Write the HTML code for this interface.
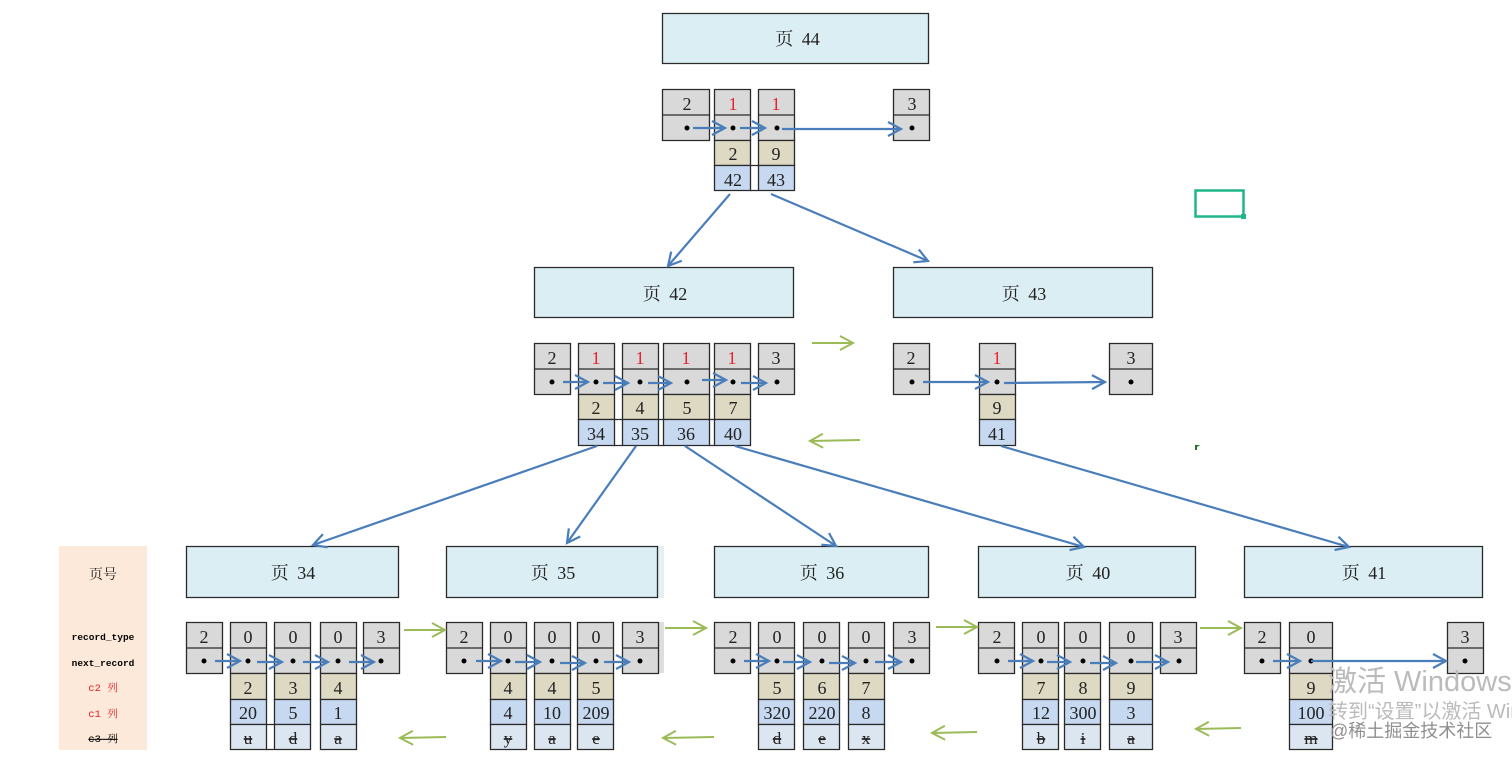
<!DOCTYPE html>
<html lang="zh">
<head>
<meta charset="utf-8">
<title>B+ tree pages</title>
<style>
html,body{margin:0;padding:0;background:#fff;width:1512px;height:762px;overflow:hidden}
svg{display:block}
text{font-family:"Liberation Serif","Noto Serif CJK SC",serif;font-size:18px;fill:#222;text-anchor:middle}
.r{fill:#e8202a}
.p{font-size:18px;word-spacing:4px}
.s{text-decoration:line-through;font-size:17px}
.l{font-family:"Liberation Mono","Noto Serif CJK SC",monospace;font-size:9.5px;fill:#000;font-weight:bold}
.c{stroke:#2a2a2a;stroke-width:1.3}
.b{fill:none;stroke:#4a7ebb;stroke-width:2.200}
.g{fill:none;stroke:#9bbb59;stroke-width:2}
.w{font-family:"Liberation Sans","Noto Sans CJK SC",sans-serif;fill:#9a9a9a;text-anchor:start}
</style>
</head>
<body>
<svg width="1512" height="762" viewBox="0 0 1512 762" xmlns="http://www.w3.org/2000/svg">
<defs>
<marker id="mb" markerUnits="userSpaceOnUse" markerWidth="20" markerHeight="20" refX="14" refY="10" orient="auto"><path d="M1 3L14 10L1 17" fill="none" stroke="#4a7ebb" stroke-width="2.200"/></marker>
<marker id="mg" markerUnits="userSpaceOnUse" markerWidth="20" markerHeight="20" refX="14" refY="10" orient="auto"><path d="M1 3L14 10L1 17" fill="none" stroke="#9bbb59" stroke-width="2"/></marker>
</defs>

<!-- legend -->
<rect x="59" y="546" width="88" height="204" fill="#fde9d9"/>
<text x="103" y="579" style="font-size:14px">页号</text>
<text x="103" y="640" class="l">record_type</text>
<text x="103" y="666" class="l">next_record</text>
<text x="103" y="691" class="l" style="fill:#e8202a;font-size:10.5px;font-weight:normal">c2 列</text>
<text x="103" y="717" class="l" style="fill:#e8202a;font-size:10.5px;font-weight:normal">c1 列</text>
<text x="103" y="742" class="l" style="text-decoration:line-through;font-size:10.5px;font-weight:normal">c3 列</text>

<!-- shadows -->
<rect x="658" y="546" width="6" height="52" fill="#e3f0f4"/>
<rect x="658" y="622" width="6" height="51" fill="#dedede"/>

<!-- page headers -->
<path class="c" fill="#daeef3" d="M662.500 13.500h266v50h-266zM534.500 267.500h259v50h-259zM893.500 267.500h259v50h-259zM186.500 546.500h212v51h-212zM446.500 546.500h211v51h-211zM714.500 546.500h214v51h-214zM978.500 546.500h217v51h-217zM1244.500 546.500h238v51h-238z"/>
<text x="797.500" y="45" class="p">页 44</text>
<text x="665" y="300" class="p">页 42</text>
<text x="1024" y="300" class="p">页 43</text>
<text x="293" y="579" class="p">页 34</text>
<text x="553" y="579" class="p">页 35</text>
<text x="822" y="579" class="p">页 36</text>
<text x="1088" y="579" class="p">页 40</text>
<text x="1364" y="579" class="p">页 41</text>

<!-- gray cells -->
<path class="c" fill="#d9d9d9" d="M662.500 89.500h47v51h-47zM662.500 115h47M714.500 89.500h36v51h-36zM714.500 115h36M758.500 89.500h36v51h-36zM758.500 115h36M893.500 89.500h36v51h-36zM893.500 115h36
M534.500 343.500h36v51h-36zM534.500 369h36M578.500 343.500h36v51h-36zM578.500 369h36M622.500 343.500h36v51h-36zM622.500 369h36M663.500 343.500h46v51h-46zM663.500 369h46M714.500 343.500h36v51h-36zM714.500 369h36M758.500 343.500h36v51h-36zM758.500 369h36
M893.500 343.500h36v51h-36zM893.500 369h36M979.500 343.500h36v51h-36zM979.500 369h36M1109.500 343.500h43v51h-43zM1109.500 369h43
M186.500 622.500h36v51h-36zM186.500 648h36M230.500 622.500h36v51h-36zM230.500 648h36M274.500 622.500h36v51h-36zM274.500 648h36M320.500 622.500h36v51h-36zM320.500 648h36M363.500 622.500h36v51h-36zM363.500 648h36
M446.500 622.500h36v51h-36zM446.500 648h36M490.500 622.500h36v51h-36zM490.500 648h36M534.500 622.500h36v51h-36zM534.500 648h36M577.500 622.500h36v51h-36zM577.500 648h36M622.500 622.500h36v51h-36zM622.500 648h36
M714.500 622.500h36v51h-36zM714.500 648h36M758.500 622.500h36v51h-36zM758.500 648h36M803.500 622.500h36v51h-36zM803.500 648h36M848.500 622.500h36v51h-36zM848.500 648h36M893.500 622.500h36v51h-36zM893.500 648h36
M978.500 622.500h36v51h-36zM978.500 648h36M1022.500 622.500h36v51h-36zM1022.500 648h36M1064.500 622.500h36v51h-36zM1064.500 648h36M1109.500 622.500h43v51h-43zM1109.500 648h43M1160.500 622.500h36v51h-36zM1160.500 648h36
M1244.500 622.500h36v51h-36zM1244.500 648h36M1289.500 622.500h43v51h-43zM1289.500 648h43M1447.500 622.500h36v51h-36zM1447.500 648h36"/>

<!-- tan cells -->
<path class="c" fill="#ddd9c3" d="M714.500 140.500h36v25h-36zM758.500 140.500h36v25h-36zM578.500 394.500h36v25h-36zM622.500 394.500h36v25h-36zM663.500 394.500h46v25h-46zM714.500 394.500h36v25h-36zM979.500 394.500h36v25h-36zM230.500 673.500h36v26h-36zM274.500 673.500h36v26h-36zM320.500 673.500h36v26h-36zM490.500 673.500h36v26h-36zM534.500 673.500h36v26h-36zM577.500 673.500h36v26h-36zM758.500 673.500h36v26h-36zM803.500 673.500h36v26h-36zM848.500 673.500h36v26h-36zM1022.500 673.500h36v26h-36zM1064.500 673.500h36v26h-36zM1109.500 673.500h43v26h-43zM1289.500 673.500h43v26h-43z"/>

<!-- blue cells -->
<path class="c" fill="#c6d9f1" d="M714.500 165.500h36v25h-36zM758.500 165.500h36v25h-36zM578.500 419.500h36v26h-36zM622.500 419.500h36v26h-36zM663.500 419.500h46v26h-46zM714.500 419.500h36v26h-36zM979.500 419.500h36v26h-36zM230.500 699.500h36v25h-36zM274.500 699.500h36v25h-36zM320.500 699.500h36v25h-36zM490.500 699.500h36v25h-36zM534.500 699.500h36v25h-36zM577.500 699.500h36v25h-36zM758.500 699.500h36v25h-36zM803.500 699.500h36v25h-36zM848.500 699.500h36v25h-36zM1022.500 699.500h36v25h-36zM1064.500 699.500h36v25h-36zM1109.500 699.500h43v25h-43zM1289.500 699.500h43v25h-43z"/>

<!-- light cells -->
<path class="c" fill="#dce6f1" d="M230.500 724.500h36v25h-36zM274.500 724.500h36v25h-36zM320.500 724.500h36v25h-36zM490.500 724.500h36v25h-36zM534.500 724.500h36v25h-36zM577.500 724.500h36v25h-36zM758.500 724.500h36v25h-36zM803.500 724.500h36v25h-36zM848.500 724.500h36v25h-36zM1022.500 724.500h36v25h-36zM1064.500 724.500h36v25h-36zM1109.500 724.500h43v25h-43zM1289.500 724.500h43v25h-43z"/>

<!-- joining lines -->
<path class="c" fill="none" d="M750 165.500h8M750 190.500h8M614 419.500h8M614 445.500h8M658 419.500h5M658 445.500h5M709 419.500h5M709 445.500h5M266 724.500h8M266 749.500h8"/>

<!-- dots -->
<path fill="none" stroke="#000" stroke-width="5" stroke-linecap="round" d="M687 128h0M733 128h0M777 128h0M912 128h0
M552 382h0M596 382h0M640 382h0M687 382h0M733 382h0M777 382h0M912 382h0M997 382h0M1131 382h0
M204 661h0M248 661h0M293 661h0M338 661h0M381 661h0
M464 661h0M508 661h0M552 661h0M596 661h0M640 661h0
M733 661h0M777 661h0M822 661h0M866 661h0M912 661h0
M997 661h0M1041 661h0M1083 661h0M1131 661h0M1179 661h0
M1262 661h0M1311 661h0M1465 661h0"/>

<!-- group 1 text -->
<text x="687" y="110">2</text><text x="733" y="110" class="r">1</text><text x="776" y="110" class="r">1</text><text x="912" y="110">3</text>
<text x="733" y="160">2</text><text x="776" y="160">9</text><text x="733" y="186">42</text><text x="776" y="186">43</text>

<!-- group 2 text -->
<text x="552" y="364">2</text><text x="596" y="364" class="r">1</text><text x="640" y="364" class="r">1</text><text x="686" y="364" class="r">1</text><text x="732" y="364" class="r">1</text><text x="776" y="364">3</text>
<text x="596" y="414">2</text><text x="640" y="414">4</text><text x="687" y="414">5</text><text x="733" y="414">7</text>
<text x="596" y="440">34</text><text x="640" y="440">35</text><text x="686" y="440">36</text><text x="733" y="440">40</text>
<text x="911" y="364">2</text><text x="997" y="364" class="r">1</text><text x="1131" y="364">3</text>
<text x="997" y="414">9</text><text x="997" y="440">41</text>

<!-- group 3 text -->
<text x="204" y="643">2</text><text x="248" y="643">0</text><text x="293" y="643">0</text><text x="338" y="643">0</text><text x="381" y="643">3</text>
<text x="248" y="694">2</text><text x="293" y="694">3</text><text x="338" y="694">4</text>
<text x="248" y="719">20</text><text x="293" y="719">5</text><text x="338" y="719">1</text>
<text x="248" y="744" class="s">u</text><text x="293" y="744" class="s">d</text><text x="338" y="744" class="s">a</text>

<text x="464" y="643">2</text><text x="508" y="643">0</text><text x="552" y="643">0</text><text x="596" y="643">0</text><text x="640" y="643">3</text>
<text x="508" y="694">4</text><text x="552" y="694">4</text><text x="596" y="694">5</text>
<text x="508" y="719">4</text><text x="552" y="719">10</text><text x="596" y="719">209</text>
<text x="508" y="744" class="s">y</text><text x="552" y="744" class="s">a</text><text x="596" y="744" class="s">e</text>

<text x="733" y="643">2</text><text x="777" y="643">0</text><text x="822" y="643">0</text><text x="866" y="643">0</text><text x="912" y="643">3</text>
<text x="777" y="694">5</text><text x="822" y="694">6</text><text x="866" y="694">7</text>
<text x="777" y="719">320</text><text x="822" y="719">220</text><text x="866" y="719">8</text>
<text x="777" y="744" class="s">d</text><text x="822" y="744" class="s">e</text><text x="866" y="744" class="s">x</text>

<text x="997" y="643">2</text><text x="1041" y="643">0</text><text x="1083" y="643">0</text><text x="1131" y="643">0</text><text x="1178" y="643">3</text>
<text x="1041" y="694">7</text><text x="1083" y="694">8</text><text x="1131" y="694">9</text>
<text x="1041" y="719">12</text><text x="1083" y="719">300</text><text x="1131" y="719">3</text>
<text x="1041" y="744" class="s">b</text><text x="1083" y="744" class="s">i</text><text x="1131" y="744" class="s">a</text>

<text x="1262" y="643">2</text><text x="1311" y="643">0</text><text x="1465" y="643">3</text>
<text x="1311" y="694">9</text><text x="1311" y="719">100</text><text x="1311" y="744" class="s">m</text>

<!-- blue connectors -->
<path class="b" marker-end="url(#mb)" d="M693 128H725"/>
<path class="b" marker-end="url(#mb)" d="M740 128H765"/>
<path class="b" marker-end="url(#mb)" d="M782 129H901"/>
<path class="b" marker-end="url(#mb)" d="M730 194L668 266"/>
<path class="b" marker-end="url(#mb)" d="M771 194L928 261"/>
<path class="b" marker-end="url(#mb)" d="M563 382H588"/>
<path class="b" marker-end="url(#mb)" d="M603 383H628"/>
<path class="b" marker-end="url(#mb)" d="M648 383H671"/>
<path class="b" marker-end="url(#mb)" d="M702 380H726"/>
<path class="b" marker-end="url(#mb)" d="M741 383H766"/>
<path class="b" marker-end="url(#mb)" d="M923 382H988"/>
<path class="b" marker-end="url(#mb)" d="M1004 383L1105 382"/>
<path class="b" marker-end="url(#mb)" d="M597 446L313 545"/>
<path class="b" marker-end="url(#mb)" d="M636 446L567 543"/>
<path class="b" marker-end="url(#mb)" d="M685 446L836 546"/>
<path class="b" marker-end="url(#mb)" d="M735 446L1084 547"/>
<path class="b" marker-end="url(#mb)" d="M1001 446L1349 547"/>
<path class="b" marker-end="url(#mb)" d="M215 661H240"/>
<path class="b" marker-end="url(#mb)" d="M257 662H282"/>
<path class="b" marker-end="url(#mb)" d="M303 662H328"/>
<path class="b" marker-end="url(#mb)" d="M349 662H374"/>
<path class="b" marker-end="url(#mb)" d="M476 661H501"/>
<path class="b" marker-end="url(#mb)" d="M515 662H540"/>
<path class="b" marker-end="url(#mb)" d="M560 663H585"/>
<path class="b" marker-end="url(#mb)" d="M604 662H629"/>
<path class="b" marker-end="url(#mb)" d="M744 661H769"/>
<path class="b" marker-end="url(#mb)" d="M783 662H810"/>
<path class="b" marker-end="url(#mb)" d="M829 663H855"/>
<path class="b" marker-end="url(#mb)" d="M875 662H901"/>
<path class="b" marker-end="url(#mb)" d="M1008 661H1033"/>
<path class="b" marker-end="url(#mb)" d="M1047 662H1070"/>
<path class="b" marker-end="url(#mb)" d="M1090 663H1116"/>
<path class="b" marker-end="url(#mb)" d="M1136 662H1168"/>
<path class="b" marker-end="url(#mb)" d="M1273 661H1300"/>
<path class="b" marker-end="url(#mb)" d="M1311 661H1446"/>

<!-- green connectors -->
<path class="g" marker-end="url(#mg)" d="M812 343H853"/>
<path class="g" marker-end="url(#mg)" d="M860 440L810 441"/>
<path class="g" marker-end="url(#mg)" d="M404 630H445"/>
<path class="g" marker-end="url(#mg)" d="M665 628H706"/>
<path class="g" marker-end="url(#mg)" d="M936 627H977"/>
<path class="g" marker-end="url(#mg)" d="M1200 628H1241"/>
<path class="g" marker-end="url(#mg)" d="M446 737L400 738"/>
<path class="g" marker-end="url(#mg)" d="M714 737L663 738"/>
<path class="g" marker-end="url(#mg)" d="M977 732L932 733"/>
<path class="g" marker-end="url(#mg)" d="M1241 728L1196 729"/>

<!-- green selection mark -->
<rect x="1195.500" y="190.500" width="48" height="26" fill="none" stroke="#1fb58a" stroke-width="2.500"/>
<rect x="1241" y="214" width="5" height="5" fill="#1fb58a"/>
<path d="M1195 445h5l-3 2v3h-2z" fill="#1a7a2a"/>

<!-- watermark -->
<text x="1328" y="691" class="w" style="font-size:29px;fill:#bbb">激活 Windows</text>
<text x="1328" y="718" class="w" style="font-size:20px;fill:#bbb">转到“设置”以激活 Windows</text>
<text x="1330" y="737" class="w" style="font-size:18px;fill:#8f8f8f">@稀土掘金技术社区</text>
</svg>
</body>
</html>
